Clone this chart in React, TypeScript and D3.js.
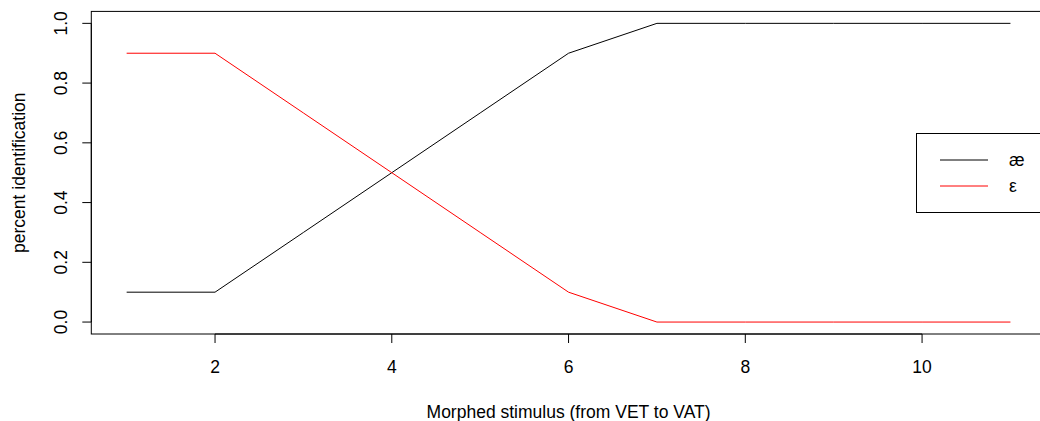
import { useRef, useEffect } from "react";
import * as d3 from "d3";

const stimulus = [1, 2, 3, 4, 5, 6, 7, 8, 9, 10, 11];
const aeValues = [0.1, 0.1, 0.3, 0.5, 0.7, 0.9, 1, 1, 1, 1, 1];
const epsValues = [0.9, 0.9, 0.7, 0.5, 0.3, 0.1, 0, 0, 0, 0, 0];
const xTicks = [2, 4, 6, 8, 10];
const yTicks = [0, 0.2, 0.4, 0.6, 0.8, 1.0];
const legendLabels = ["æ", "ε"];
const seriesColors = ["#000000", "#ff0000"];

export default function App() {
  const ref = useRef<SVGSVGElement>(null);

  useEffect(() => {
    const svg = d3.select(ref.current);
    const width = 1040;
    const height = 421;
    const font = "'Liberation Sans', Arial, sans-serif";
    const fs = 17.5;

    svg.selectAll("*").remove();
    svg.attr("width", width).attr("height", height);

    // R-style 4% padding on both axes
    const x = d3.scaleLinear().domain([0.6, 11.4]).range([91.3, 1045.8]);
    const y = d3.scaleLinear().domain([-0.04, 1.04]).range([334, 11.4]);

    const g = svg.append("g");

    // plot box
    g.append("rect")
      .attr("x", x(0.6))
      .attr("y", y(1.04))
      .attr("width", x(11.4) - x(0.6))
      .attr("height", y(-0.04) - y(1.04))
      .attr("fill", "none")
      .attr("stroke", "#000")
      .attr("stroke-width", 1);

    // x axis
    const xAxis = g.append("g").attr("font-family", font).attr("font-size", fs);
    xAxis
      .append("line")
      .attr("x1", x(xTicks[0]))
      .attr("x2", x(xTicks[xTicks.length - 1]))
      .attr("y1", y(-0.04))
      .attr("y2", y(-0.04))
      .attr("stroke", "#000");
    xTicks.forEach((t) => {
      xAxis
        .append("line")
        .attr("x1", x(t))
        .attr("x2", x(t))
        .attr("y1", y(-0.04))
        .attr("y2", y(-0.04) + 9)
        .attr("stroke", "#000");
      xAxis
        .append("text")
        .attr("x", x(t))
        .attr("y", 373)
        .attr("text-anchor", "middle")
        .text(t);
    });

    // y axis
    const yAxis = g.append("g").attr("font-family", font).attr("font-size", fs);
    yAxis
      .append("line")
      .attr("x1", x(0.6))
      .attr("x2", x(0.6))
      .attr("y1", y(0))
      .attr("y2", y(1))
      .attr("stroke", "#000");
    yTicks.forEach((t) => {
      yAxis
        .append("line")
        .attr("x1", x(0.6) - 9)
        .attr("x2", x(0.6))
        .attr("y1", y(t))
        .attr("y2", y(t))
        .attr("stroke", "#000");
      yAxis
        .append("text")
        .attr("transform", `translate(67, ${y(t)}) rotate(-90)`)
        .attr("text-anchor", "middle")
        .text(d3.format(".1f")(t));
    });

    // axis titles
    g.append("text")
      .attr("x", (x(0.6) + x(11.4)) / 2)
      .attr("y", 418)
      .attr("text-anchor", "middle")
      .attr("font-family", font)
      .attr("font-size", fs)
      .text("Morphed stimulus (from VET to VAT)");
    g.append("text")
      .attr("transform", `translate(25, ${(y(1.04) + y(-0.04)) / 2}) rotate(-90)`)
      .attr("text-anchor", "middle")
      .attr("font-family", font)
      .attr("font-size", fs)
      .text("percent identification");

    // lines
    const line = d3
      .line<number>()
      .x((_, i) => x(stimulus[i]))
      .y((d) => y(d));
    [aeValues, epsValues].forEach((vals, i) => {
      g.append("path")
        .attr("d", line(vals))
        .attr("fill", "none")
        .attr("stroke", seriesColors[i])
        .attr("stroke-width", 1);
    });

    // legend
    const lg = g.append("g").attr("font-family", font).attr("font-size", fs);
    lg.append("rect")
      .attr("x", 916.5)
      .attr("y", 133.5)
      .attr("width", 200)
      .attr("height", 79)
      .attr("fill", "#fff")
      .attr("stroke", "#000");
    legendLabels.forEach((lab, i) => {
      const ly = 160 + i * 26;
      lg.append("line")
        .attr("x1", 940)
        .attr("x2", 988)
        .attr("y1", ly)
        .attr("y2", ly)
        .attr("stroke", seriesColors[i]);
      lg.append("text")
        .attr("x", 1009)
        .attr("y", ly + 6)
        .text(lab);
    });
  }, []);

  return (
    <svg
      ref={ref}
      style={{ position: "absolute", left: 0, top: 0, display: "block" }}
    ></svg>
  );
}
